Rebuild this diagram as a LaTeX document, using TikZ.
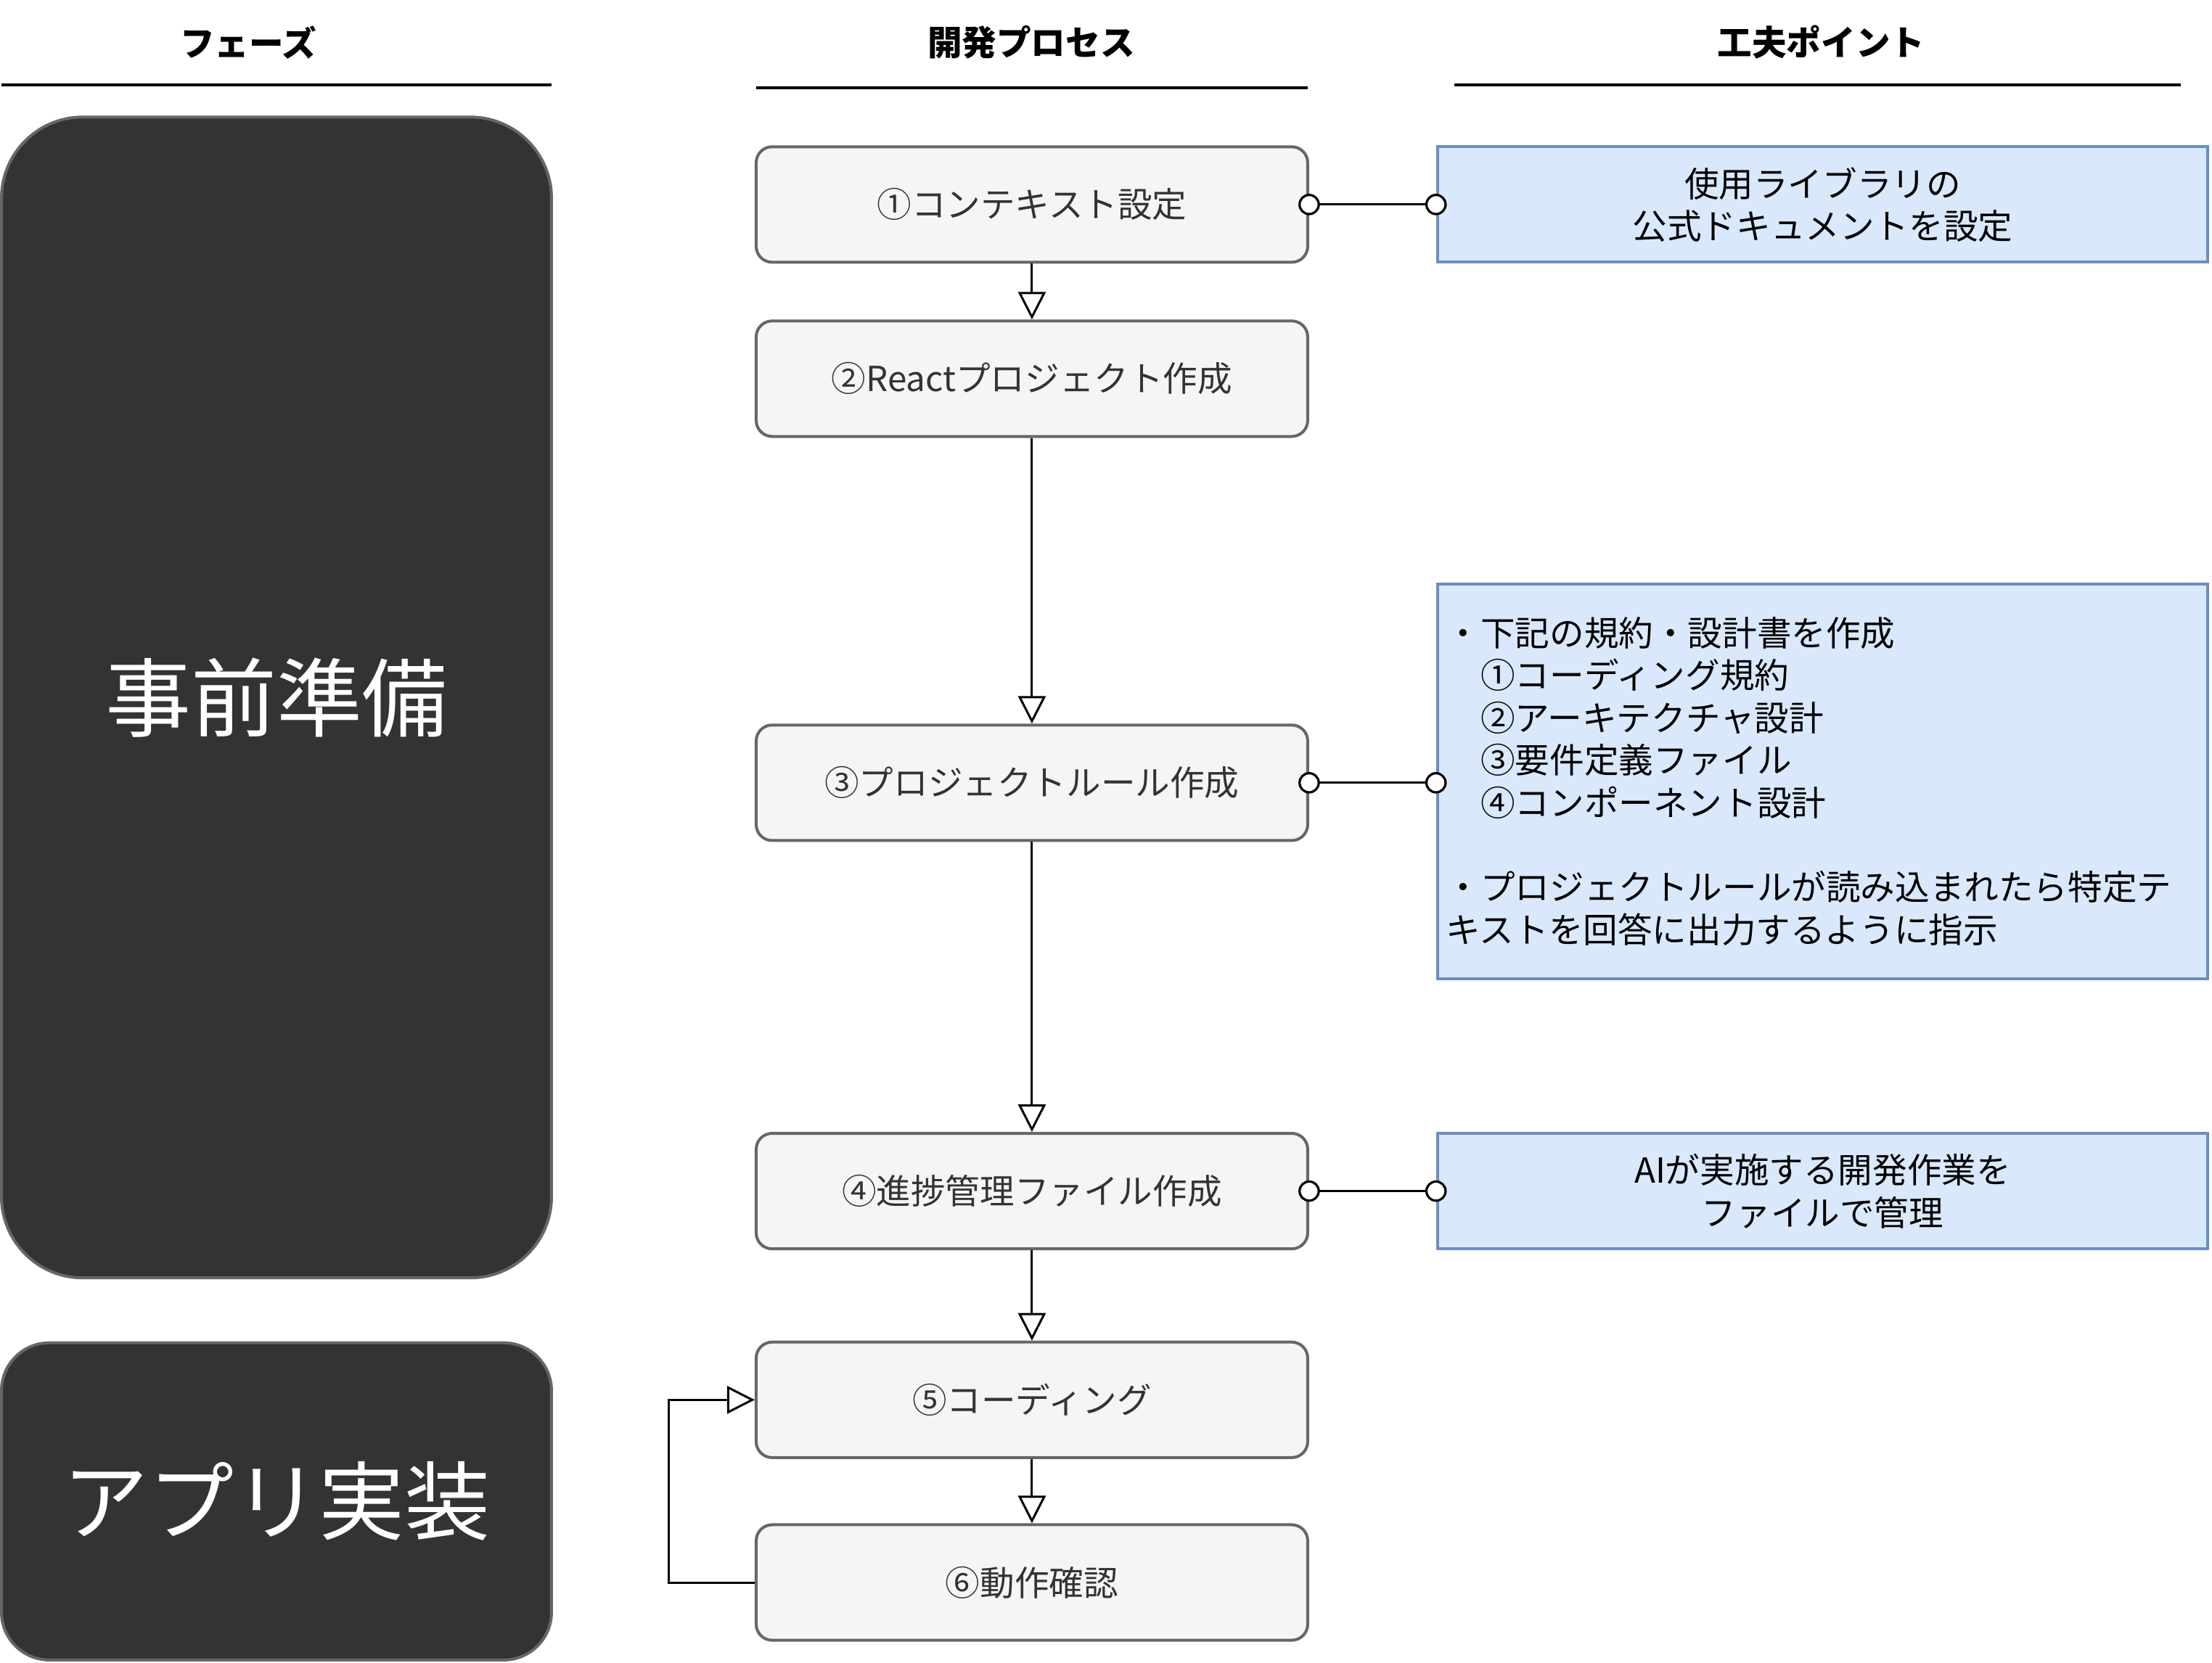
\documentclass[tikz,border=0pt]{standalone}
\usepackage{fontspec}
\setmainfont{Noto Sans CJK JP}
\usetikzlibrary{arrows.meta}
\definecolor{phasefill}{HTML}{333333}
\definecolor{phaseline}{HTML}{666666}
\definecolor{procfill}{HTML}{F5F5F5}
\definecolor{procline}{HTML}{666666}
\definecolor{proctext}{HTML}{333333}
\definecolor{bluefill}{HTML}{DAE8FC}
\definecolor{blueline}{HTML}{6C8EBF}
\tikzset{
  hdr/.style={font=\fontsize{11.9pt}{14pt}\selectfont\bfseries, text=black},
  hdrline/.style={line width=1pt, black},
  phasebox/.style={draw=phaseline, fill=phasefill, line width=1pt, minimum width=189.5pt,
    text=white, font=\fontsize{29.5pt}{34pt}\selectfont},
  procbox/.style={draw=procline, fill=procfill, line width=1pt, rounded corners=5.5pt,
    minimum width=190pt, minimum height=39.8pt, text=proctext,
    font=\fontsize{11.9pt}{14.6pt}\selectfont},
  notebox/.style={draw=blueline, fill=bluefill, line width=1pt,
    minimum width=265.4pt, minimum height=39.8pt, text=black, align=center,
    font=\fontsize{11.9pt}{14.6pt}\selectfont},
  flow/.style={line width=0.75pt, black, -{Triangle[length=9.5pt,width=9.5pt,fill=white]}},
  link/.style={line width=0.8pt, black},
  endoval/.style={line width=0.8pt, draw=black, fill=white},
}
\begin{document}
\begin{tikzpicture}[x=0.486pt,y=-0.486pt]
\useasboundingbox (0,0) rectangle (1568,1179);

% headers
\node[hdr] (h1) at (176,30) {フェーズ};
\node[hdr] (h2) at (731,30) {開発プロセス};
\node[hdr] (h3) at (1291,30) {工夫ポイント};
\draw[hdrline] (1,60) -- (391,60);
\draw[hdrline] (536,62.5) -- (927,62.5);
\draw[hdrline] (1031,60) -- (1546,60);

% phases
\node[phasebox, rounded corners=28pt, minimum height=400pt] (ph1) at (196,494.5) {事前準備};
\node[phasebox, rounded corners=16.5pt, minimum height=109.3pt] (ph2) at (196,1064.5) {アプリ実装};

% process boxes
\node[procbox] (p1) at (731.5,145) {①コンテキスト設定};
\node[procbox] (p2) at (731.5,268.5) {②Reactプロジェクト作成};
\node[procbox] (p3) at (731.5,555) {③プロジェクトルール作成};
\node[procbox] (p4) at (731.5,844.5) {④進捗管理ファイル作成};
\node[procbox] (p5) at (731.5,992.5) {⑤コーディング};
\node[procbox] (p6) at (731.5,1122) {⑥動作確認};

% note boxes
\node[notebox] (b1) at (1292,145) {使用ライブラリの\\公式ドキュメントを設定};
\node[notebox, minimum height=136.1pt, text width=259.4pt, inner xsep=3pt, align=left] (b2) at (1292,554)
  {・下記の規約・設計書を作成\\
   　①コーディング規約\\
   　②アーキテクチャ設計\\
   　③要件定義ファイル\\
   　④コンポーネント設計\\[14.6pt]
   ・プロジェクトルールが読み込まれたら特定テ\\
   キストを回答に出力するように指示};
\node[notebox] (b3) at (1292,844.5) {AIが実施する開発作業を\\ファイルで管理};

% flow arrows
\draw[flow] (p1.south) -- (p2.north);
\draw[flow] (p2.south) -- (p3.north);
\draw[flow] (p3.south) -- (p4.north);
\draw[flow] (p4.south) -- (p5.north);
\draw[flow] (p5.south) -- (p6.north);
\coordinate (loop) at (474,1122);
\draw[flow] (p6.west) -- (loop) |- (p5.west);

% links with oval ends
\draw[link] (p1.east) -- (b1.west);
\draw[endoval] (p1.east) circle[radius=3.3pt];
\draw[endoval] (b1.west) circle[radius=3.3pt];
\draw[link] (p3.east) -- (p3.east -| b2.west);
\draw[endoval] (p3.east) circle[radius=3.3pt];
\draw[endoval] (p3.east -| b2.west) circle[radius=3.3pt];
\draw[link] (p4.east) -- (b3.west);
\draw[endoval] (p4.east) circle[radius=3.3pt];
\draw[endoval] (b3.west) circle[radius=3.3pt];
\end{tikzpicture}
\end{document}
